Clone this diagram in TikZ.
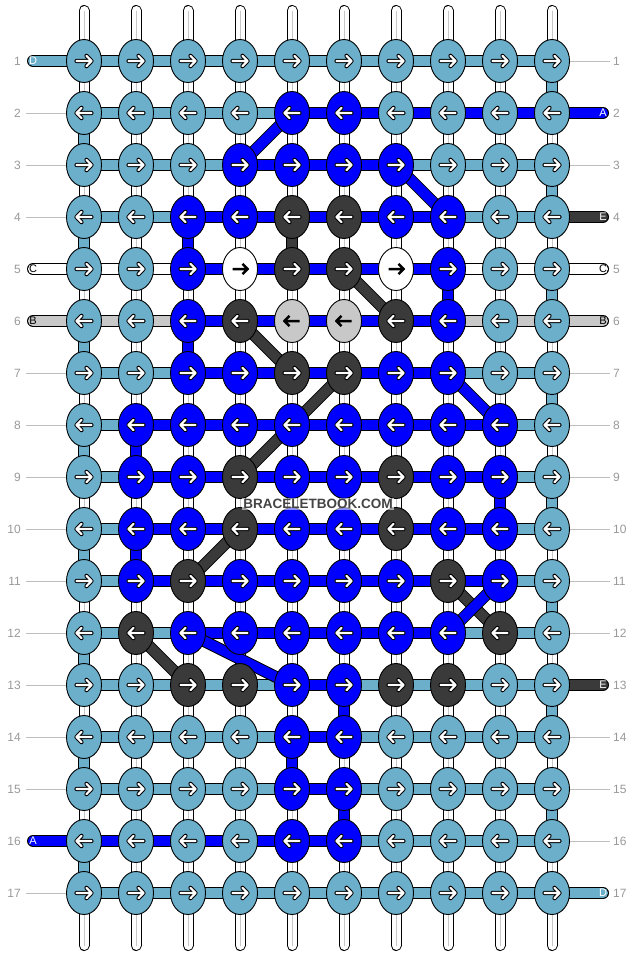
\documentclass[tikz,border=0pt]{standalone}
\usepackage{fontspec}
\setmainfont{Liberation Sans}
\usepackage{tikz}
\usetikzlibrary{shapes.geometric}

\definecolor{L}{HTML}{6BAFCB}
\definecolor{B}{HTML}{0000FF}
\definecolor{K}{HTML}{3A3A3A}
\definecolor{W}{HTML}{FFFFFF}
\definecolor{G}{HTML}{C8C8C8}
\definecolor{numgray}{HTML}{999999}
\definecolor{linegray}{HTML}{BEBEBE}

\pgfdeclarelayer{threads}
\pgfsetlayers{threads,main}

\tikzset{
  knot/.style={ellipse,draw=black,line width=0.9pt,minimum width=35pt,minimum height=43pt,inner sep=0pt},
  warr/.style={path picture={
    \begin{scope}[shift={(path picture bounding box.center)}]
      \draw[black,line width=4.2pt,line cap=round,line join=round]
        ({-7.5*\dir},0) -- ({7.5*\dir},0) ({2.5*\dir},-5.2) -- ({7.5*\dir},0) -- ({2.5*\dir},5.2);
      \draw[white,line width=2.2pt,line cap=round,line join=round]
        ({-7.5*\dir},0) -- ({7.5*\dir},0) ({2.5*\dir},-5.2) -- ({7.5*\dir},0) -- ({2.5*\dir},5.2);
    \end{scope}}},
  barr/.style={path picture={
    \begin{scope}[shift={(path picture bounding box.center)}]
      \draw[black,line width=2.5pt,line join=miter]
        ({-7.5*\dir},0) -- ({7.2*\dir},0) ({2.5*\dir},-5.2) -- ({7.5*\dir},0) -- ({2.5*\dir},5.2);
    \end{scope}}},
  kL/.style={fill=L,warr}, kB/.style={fill=B,warr}, kK/.style={fill=K,warr},
  kW/.style={fill=W,barr}, kG/.style={fill=G,barr},
  bar/.style={draw=black,line width=1pt,double=#1,double distance=10pt},
  strand/.style={draw=black,line width=1pt,double=white,double distance=9pt,line cap=round},
  core/.style={draw=black!22,line width=0.7pt},
  guide/.style={draw=linegray,line width=1pt},
  rownum/.style={text=numgray,font=\fontsize{12}{12}\selectfont,inner sep=0pt},
  endlab/.style={font=\fontsize{11}{11}\selectfont,inner sep=0pt},
}

\begin{document}
\begin{tikzpicture}[x=1pt,y=-1pt]
  \useasboundingbox (0,0) rectangle (636,956);

  % knots, one list per row
  \foreach \cols [count=\row] in {
    {L,L,L,L,L,L,L,L,L,L},{L,L,L,L,B,B,L,L,L,L},{L,L,L,B,B,B,B,L,L,L},
    {L,L,B,B,K,K,B,B,L,L},{L,L,B,W,K,K,W,B,L,L},{L,L,B,K,G,G,K,B,L,L},
    {L,L,B,B,K,K,B,B,L,L},{L,B,B,B,B,B,B,B,B,L},{L,B,B,K,B,B,K,B,B,L},
    {L,B,B,K,B,B,K,B,B,L},{L,B,K,B,B,B,B,K,B,L},{L,K,B,B,B,B,B,B,K,L},
    {L,L,K,K,B,B,K,K,L,L},{L,L,L,L,B,B,L,L,L,L},{L,L,L,L,B,B,L,L,L,L},
    {L,L,L,L,B,B,L,L,L,L},{L,L,L,L,L,L,L,L,L,L}} {
    \foreach \cc [count=\col] in \cols {
      \pgfmathtruncatemacro\dir{1-2*mod(\row+1,2)}
      \node[knot,k\cc] (k\row-\col) at ({32+52*\col},{9+52*\row}) {};
    }
    \node[rownum,anchor=east] (ln\row) at (21,{9+52*\row}) {\row};
    \node[rownum,anchor=west] (rn\row) at (613,{9+52*\row}) {\row};
  }

  \begin{pgfonlayer}{threads}
    % white base strands
    \foreach \col in {1,...,10} {
      \coordinate (top\col) at ({32+52*\col},10.5);
      \coordinate (bot\col) at ({32+52*\col},945.5);
      \draw[strand] (top\col) -- (bot\col);
      \draw[core] (top\col) -- (bot\col);
    }
    % threads along the rows
    \foreach \segs [count=\row] in {
      {L,L,L,L,L,L,L,L,L},{L,L,L,L,B,B,B,B,B},{L,L,L,B,B,B,L,L,L},
      {L,L,B,B,B,B,B,L,L},{W,W,B,B,B,B,B,W,W},{G,G,B,B,B,B,B,G,G},
      {L,L,B,B,B,B,B,L,L},{L,B,B,B,B,B,B,B,L},{L,B,B,B,B,B,B,B,L},
      {L,B,B,B,B,B,B,B,L},{L,B,B,B,B,B,B,B,L},{L,L,B,B,B,B,B,L,L},
      {L,L,L,L,B,L,L,L,L},{L,L,L,L,B,L,L,L,L},{L,L,L,L,B,L,L,L,L},
      {B,B,B,B,B,L,L,L,L},{L,L,L,L,L,L,L,L,L}} {
      \foreach \sc [count=\col] in \segs {
        \pgfmathtruncatemacro\nxt{\col+1}
        \draw[bar=\sc] (k\row-\col.center) -- (k\row-\nxt.center);
      }
    }
    % threads going down a row
    \foreach \row/\col/\vc in {1/10/L,2/1/L,3/10/L,4/1/L,4/3/B,4/5/K,5/8/B,5/10/L,
      6/1/L,6/3/B,7/10/L,8/1/L,8/2/B,9/9/B,9/10/L,10/1/L,10/2/B,11/10/L,12/1/L,
      13/6/B,13/10/L,14/1/L,14/5/B,15/6/B,15/10/L,16/1/L} {
      \pgfmathtruncatemacro\nxt{\row+1}
      \draw[bar=\vc] (k\row-\col.center) -- (k\nxt-\col.center);
    }
    % slanted threads
    \foreach \a/\b/\dc in {k3-4/k2-5/B,k3-7/k4-8/B,k5-6/k6-7/K,k6-4/k7-5/K,
      k7-6/k9-4/K,k7-8/k8-9/B,k10-4/k11-3/K,k11-8/k12-9/K,k11-9/k12-8/B,
      k12-2/k13-3/K,k12-3/k13-5/B}
      \draw[bar=\dc] (\a.center) -- (\b.center);
    % loose ends
    \foreach \row/\sc/\tc/\lab in {1/L/white/D,5/W/black/C,6/G/black/B,16/B/white/A} {
      \coordinate (le\row) at (33,{9+52*\row});
      \draw[bar=\sc,line cap=round] (k\row-1.center) -- (le\row);
      \node[endlab,text=\tc] (tl\row) at (le\row) {\lab};
    }
    \foreach \row/\sc/\tc/\lab in {2/B/white/A,4/K/white/E,5/W/black/C,6/G/black/B,
      13/K/white/E,17/L/white/D} {
      \coordinate (re\row) at (603,{9+52*\row});
      \draw[bar=\sc,line cap=round] (k\row-10.center) -- (re\row);
      \node[endlab,text=\tc] (tr\row) at (re\row) {\lab};
    }
    % guide lines
    \foreach \row in {2,3,4,7,8,9,10,11,12,13,14,15,17} {
      \coordinate (lg\row) at (26,{9+52*\row});
      \draw[guide] (lg\row) -- (k\row-1.center);
    }
    \foreach \row in {1,3,7,8,9,10,11,12,14,15,16} {
      \coordinate (rg\row) at (610,{9+52*\row});
      \draw[guide] (k\row-10.center) -- (rg\row);
    }
  \end{pgfonlayer}

  \node[font=\bfseries\fontsize{13.5}{13.5}\selectfont,text=K!95,fill=white,
    fill opacity=0.55,text opacity=1,inner sep=1pt] (mark) at (318,504) {BRACELETBOOK.COM};
\end{tikzpicture}
\end{document}
